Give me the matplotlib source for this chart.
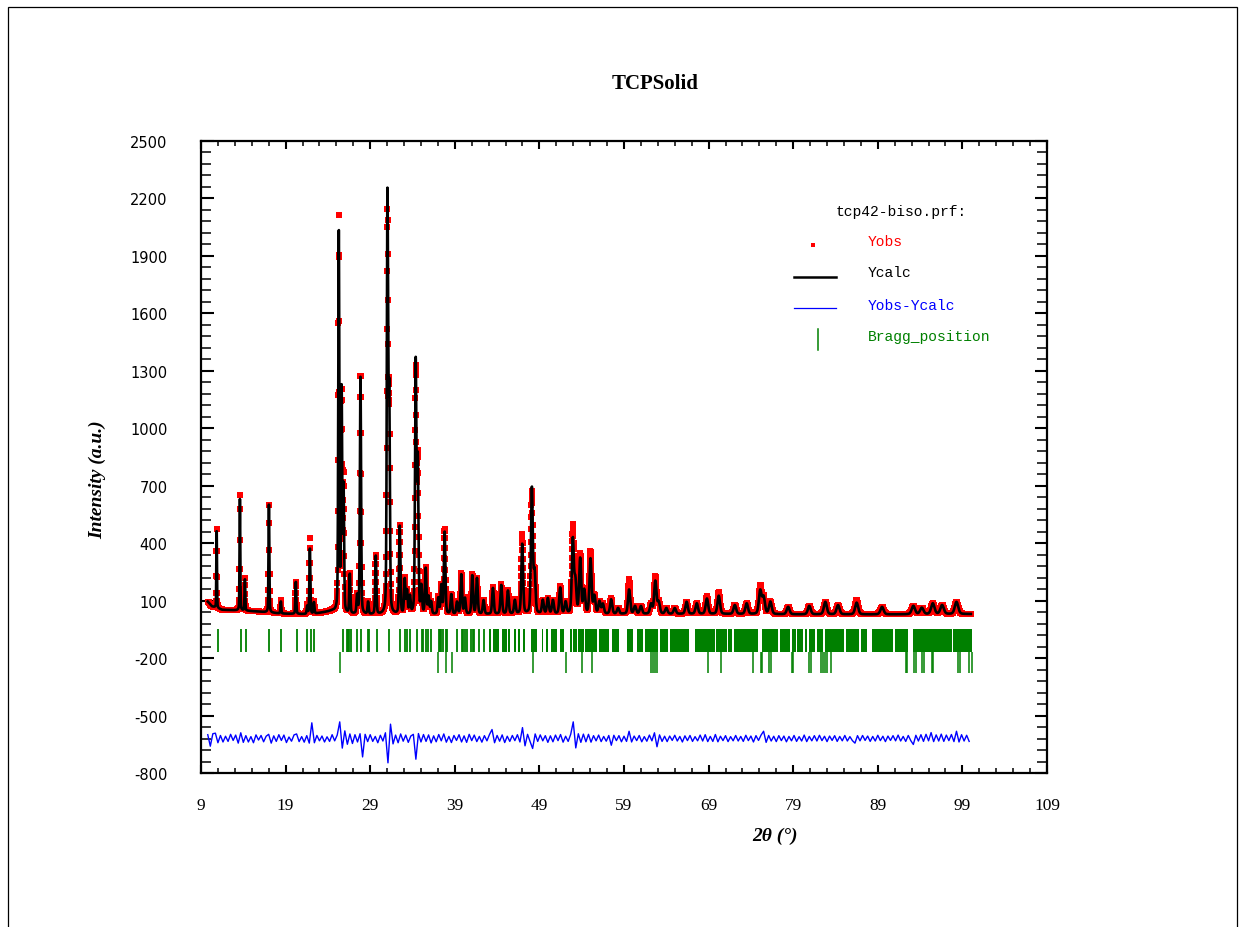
"""
Rietveld refinement plot (FullProf style) for the TCP solid pattern.
"""
import numpy as np
import matplotlib
matplotlib.use('Agg')  # no display
import matplotlib.pyplot as plt
from matplotlib.patches import Rectangle
from matplotlib.ticker import FixedLocator

plt.rcParams['axes.unicode_minus'] = False

# Background points (2theta, counts)
bg_pos = [9.8, 10.3, 11.5, 14.0, 16.0, 18.5, 22.0, 24.5, 26.5, 30.0, 40.0, 50.0, 60.0, 70.0, 80.0, 90.0, 100.0]
bg_val = [95, 70, 52, 48, 42, 32, 28, 45, 28, 25, 28, 30, 30, 30, 28, 28, 30]

# Peak tops: position, calculated and observed intensity
peak_pos = [10.85, 13.60, 14.19, 17.03, 18.44, 20.21, 21.55, 21.87, 22.35, 25.29,
            25.62, 25.85, 26.59, 27.45, 27.85, 28.75, 29.66, 31.04, 31.25, 32.49,
            33.08, 33.35, 33.70, 34.38, 34.62, 35.05, 35.56, 35.90, 36.20, 37.05,
            37.41, 37.80, 38.59, 39.26, 39.77, 40.20, 41.07, 41.62, 42.40, 43.51,
            44.49, 45.28, 46.10, 46.97, 48.11, 48.43, 49.40, 50.00, 50.60, 51.46,
            52.10, 52.95, 53.25, 53.82, 54.30, 55.04, 55.50, 56.10, 56.50, 57.48,
            58.30, 59.60, 60.30, 61.00, 62.20, 62.70, 63.10, 64.00, 65.00, 66.40,
            67.60, 68.80, 70.20, 72.10, 73.50, 75.10, 75.50, 76.30, 78.40, 80.90,
            82.80, 84.30, 86.50, 89.50, 93.20, 94.20, 95.50, 96.60, 98.30]
peak_calc = [480, 630, 215, 615, 95, 200, 70, 376, 90, 2040,
             1180, 680, 235, 120, 1280, 90, 330, 2190, 1130, 488,
             205, 145, 115, 1330, 810, 165, 262, 115, 90, 110,
             175, 455, 130, 90, 235, 110, 230, 215, 100, 165,
             180, 150, 100, 395, 685, 240, 100, 110, 100, 165,
             90, 415, 195, 315, 150, 315, 120, 93, 80, 105,
             60, 157, 70, 70, 80, 200, 90, 60, 60, 93,
             85, 110, 125, 76, 85, 150, 115, 93, 67, 72,
             93, 76, 89, 67, 72, 62, 85, 76, 93]
peak_obs = [490, 650, 220, 615, 100, 200, 75, 430, 95, 2120,
            1150, 740, 240, 125, 1285, 90, 335, 2080, 1140, 490,
            210, 145, 115, 1285, 820, 170, 267, 115, 90, 115,
            175, 470, 130, 90, 241, 110, 236, 215, 100, 171,
            185, 153, 105, 448, 660, 240, 100, 110, 100, 171,
            90, 482, 195, 340, 150, 350, 120, 93, 80, 110,
            60, 209, 70, 70, 80, 226, 90, 60, 60, 93,
            85, 122, 145, 76, 85, 176, 115, 93, 67, 72,
            93, 76, 101, 67, 72, 62, 85, 76, 93]

# Yobs-Ycalc, sampled every 0.3 deg from 9.8 deg
diff_start, diff_step = 9.8, 0.3
diff_res = [
    20, -40, 25, 28, -22, 16, -18, 12, -15, 22, -10, 18, -24, 30, -20,
    15, -18, 10, -22, 19, -8, 16, -17, 12, 22, -24, 14, -15, 20, -10,
    18, -21, 8, -14, 19, 24, -16, 10, -19, 15, -24, 82, -22, 16, -12,
    13, -18, 9, -15, 20, -12, 18, 87, -50, 40, -30, 24, -26, 20, -18,
    25, -96, 22, -16, 20, -15, 11, -22, 17, -13, 30, -127, 75, -28, 18,
    -22, 24, -14, 18, -20, 13, 22, -108, 26, -18, 21, -15, 19, -23, 14,
    -17, 21, -12, 24, -19, 11, -21, 16, -10, 20, -18, 14, -20, 22, -11,
    18, -16, 11, -19, 15, -12, 21, 47, -22, 16, -14, 19, -21, 12, -15,
    16, -11, 20, -18, 57, -38, 22, -16, -52, 24, -15, 19, -12, 15, -20,
    14, -17, 18, -11, 21, -19, 12, -15, 22, 87, -49, 25, -20, 23, -17,
    22, -19, 15, -12, 18, -16, 11, -14, 16, -35, 17, -11, 15, -17, 12,
    -15, 38, -18, 13, -11, 16, -17, 10, -14, 18, -12, 30, -43, 19, -15,
    12, -16, 13, -10, 17, -13, 11, -18, 14, -11, 16, -15, 10, -12, 18,
    -13, 20, -16, 11, -15, 21, -17, 12, -11, 15, -16, 10, -12, 16, -13,
    11, -15, 17, -11, 13, -18, 15, -10, 18, 38, -20, 16, -13, 12, -16,
    15, -11, 13, -17, 11, -12, 16, -15, 10, -13, 18, -16, 11, -12, 15,
    -13, 17, -11, 12, -16, 13, -10, 15, -15, 11, -12, 16, -13, 10, -11,
    -24, 15, -12, 16, -10, 13, -15, 11, -13, 17, -11, 12, -16, 13, -10,
    15, -12, 18, -13, 11, -15, 16, -11, -31, 17, -13, 20, -15, 22, -12,
    31, -16, 19, -13, 23, -15, 18, -11, 21, -16, 38, -18, 20, -13, 17,
    -15,
]

# Bragg positions, phase 1 (TCP): isolated reflections and dense clusters
tcp_lines = [10.97, 13.69, 14.28, 17.08, 18.50, 20.31, 21.57, 22.00, 22.40, 25.82,
             26.22, 26.38, 26.53, 26.69, 27.48, 27.91, 28.70, 28.90, 29.77, 31.22,
             32.56, 33.11, 33.31, 33.70, 34.49, 35.09, 35.28, 35.60, 35.87, 36.19,
             37.09, 37.25, 37.41, 37.57, 37.92, 38.08, 39.26, 39.85, 40.01, 40.21,
             40.41, 40.91, 41.12, 41.31, 41.86, 42.45]
tcp_clusters = [(43.04, 43.28), (43.55, 44.22), (44.54, 45.13), (45.33, 45.53), (46.04, 46.23),
                (46.51, 46.71), (47.10, 47.30), (48.01, 48.68), (49.27, 49.47), (49.78, 50.06),
                (50.37, 51.04), (51.44, 51.91), (52.62, 52.81), (53.01, 53.41), (53.60, 54.27),
                (54.39, 55.77), (56.08, 57.23), (57.54, 58.45), (59.32, 60.10), (60.50, 61.29),
                (61.48, 63.06), (63.26, 64.16), (64.44, 66.68), (67.39, 69.76), (69.88, 71.14),
                (71.33, 71.81), (72.04, 74.88), (75.35, 77.25), (77.44, 78.62), (78.82, 79.33),
                (79.49, 80.20), (80.40, 80.67), (80.91, 81.58), (81.78, 82.49), (82.76, 85.01),
                (85.24, 86.82), (86.98, 87.69), (88.28, 90.84), (91.04, 92.61), (93.12, 97.73),
                (97.93, 100.10)]

# Bragg positions, phase 2 (anatase)
anatase_lines = [25.43, 37.05, 37.92, 38.71, 48.20, 52.14, 54.00, 55.20, 62.15, 62.39,
                 62.66, 62.94, 68.89, 70.47, 74.21, 75.19, 75.35, 76.14, 76.34, 78.82,
                 79.02, 80.91, 81.07, 82.25, 82.49, 82.76, 82.96, 83.47, 92.34, 92.49,
                 93.28, 93.52, 94.27, 94.46, 95.37, 95.57, 98.52, 98.72, 99.82, 100.10]

GREEN = '#008000'
DIFF_OFFSET = -620


def pseudo_voigt(x, x0, fwhm, eta=0.3):
    d2 = 4.0 * (x - x0) ** 2 / fwhm ** 2
    return eta / (1.0 + d2) + (1.0 - eta) * np.exp(-np.log(2.0) * d2)


def build_pattern(two_theta, tops):
    """Background plus one peak per reflection, scaled to the given peak tops."""
    y = np.interp(two_theta, bg_pos, bg_val).astype(float)
    for pos, top in zip(peak_pos, tops):
        net = top - np.interp(pos, bg_pos, bg_val)
        fwhm = 0.08 + 0.0045 * (pos - 10.0)
        y += net * pseudo_voigt(two_theta, pos, fwhm)
    return y


two_theta = np.arange(9.8, 100.0001, 0.02)
y_obs = build_pattern(two_theta, peak_obs)
y_calc = build_pattern(two_theta, peak_calc)
diff_x = diff_start + diff_step * np.arange(len(diff_res))
diff_y = np.array(diff_res) + DIFF_OFFSET

# Figure
fig = plt.figure(figsize=(12.44, 9.28), dpi=100)
ax = fig.add_axes([201 / 1244, 154 / 928, 846 / 1244, 632 / 928])

ax.plot(two_theta, y_obs, 's', color='red', markersize=4.2, markeredgewidth=0, zorder=2)
ax.plot(two_theta, y_calc, color='black', linewidth=1.9, zorder=3)
ax.plot(diff_x, diff_y, color='blue', linewidth=1.0, zorder=3)

ax.vlines(tcp_lines, -170, -50, color=GREEN, linewidth=1.3)
ax.broken_barh([(s, e - s) for s, e in tcp_clusters], (-170, 120), facecolors=GREEN)
ax.vlines(anatase_lines, -280, -170, color=GREEN, linewidth=1.1)

ax.set_xlim(9, 109)
ax.set_ylim(-800, 2500)
ax.xaxis.set_major_locator(FixedLocator(np.arange(9, 110, 10)))
ax.xaxis.set_minor_locator(FixedLocator(np.arange(9, 110, 2)))
ax.yaxis.set_major_locator(FixedLocator(np.arange(-800, 2501, 300)))
ax.yaxis.set_minor_locator(FixedLocator(np.arange(-800, 2501, 60)))

ax.tick_params(axis='both', which='both', direction='in', top=True, right=True, colors='black')
ax.tick_params(axis='y', which='major', length=9, width=1.5, pad=24, labelsize=10.5)
ax.tick_params(axis='y', which='minor', length=7, width=1.1)
ax.tick_params(axis='x', which='major', length=6, width=1.5, pad=17, labelsize=12.5)
ax.tick_params(axis='x', which='minor', length=3.5, width=1.1)
for lbl in ax.get_xticklabels():
    lbl.set_fontfamily('Liberation Serif')
for lbl in ax.get_yticklabels():
    lbl.set_fontfamily('DejaVu Sans')
for spine in ax.spines.values():
    spine.set_linewidth(1.6)

# Legend block in the FullProf layout
mono = dict(family='Liberation Mono', fontsize=10.5, va='center', transform=ax.transAxes)
ax.text(0.7506, 0.8897, 'tcp42-biso.prf:', color='black', **mono)
ax.plot([0.7234], [0.8354], 's', color='red', markersize=3.2, markeredgewidth=0,
        transform=ax.transAxes, clip_on=False)
ax.text(0.7881, 0.8413, 'Yobs', color='red', **mono)
ax.plot([0.7010, 0.7506], [0.7843, 0.7843], color='black', linewidth=1.8, transform=ax.transAxes)
ax.text(0.7881, 0.7922, 'Ycalc', color='black', **mono)
ax.plot([0.7010, 0.7506], [0.7358, 0.7358], color='blue', linewidth=0.9, transform=ax.transAxes)
ax.text(0.7881, 0.7410, 'Yobs-Ycalc', color='blue', **mono)
ax.plot([0.7297, 0.7297], [0.6693, 0.7025], color=GREEN, linewidth=1.1, transform=ax.transAxes)
ax.text(0.7881, 0.6919, 'Bragg_position', color=GREEN, **mono)

serif = 'Liberation Serif'
fig.text(0.5265, 0.9095, 'TCPSolid', ha='center', va='center', fontsize=15,
         fontweight='bold', family=serif)
fig.text(0.078, 0.4828, 'Intensity (a.u.)', ha='center', va='center', rotation=90,
         fontsize=14, fontweight='bold', fontstyle='italic', family=serif)
fig.text(0.623, 0.0991, '2θ (°)', ha='center', va='center', fontsize=14,
         fontweight='bold', fontstyle='italic', family=serif)

# Outer frame
fig.patches.append(Rectangle((8 / 1244, -0.1), 1229 / 1244, 1.1 - 8 / 928, transform=fig.transFigure,
                             fill=False, edgecolor='black', linewidth=0.9))

fig.savefig('out.png', dpi=100)
plt.close(fig)
